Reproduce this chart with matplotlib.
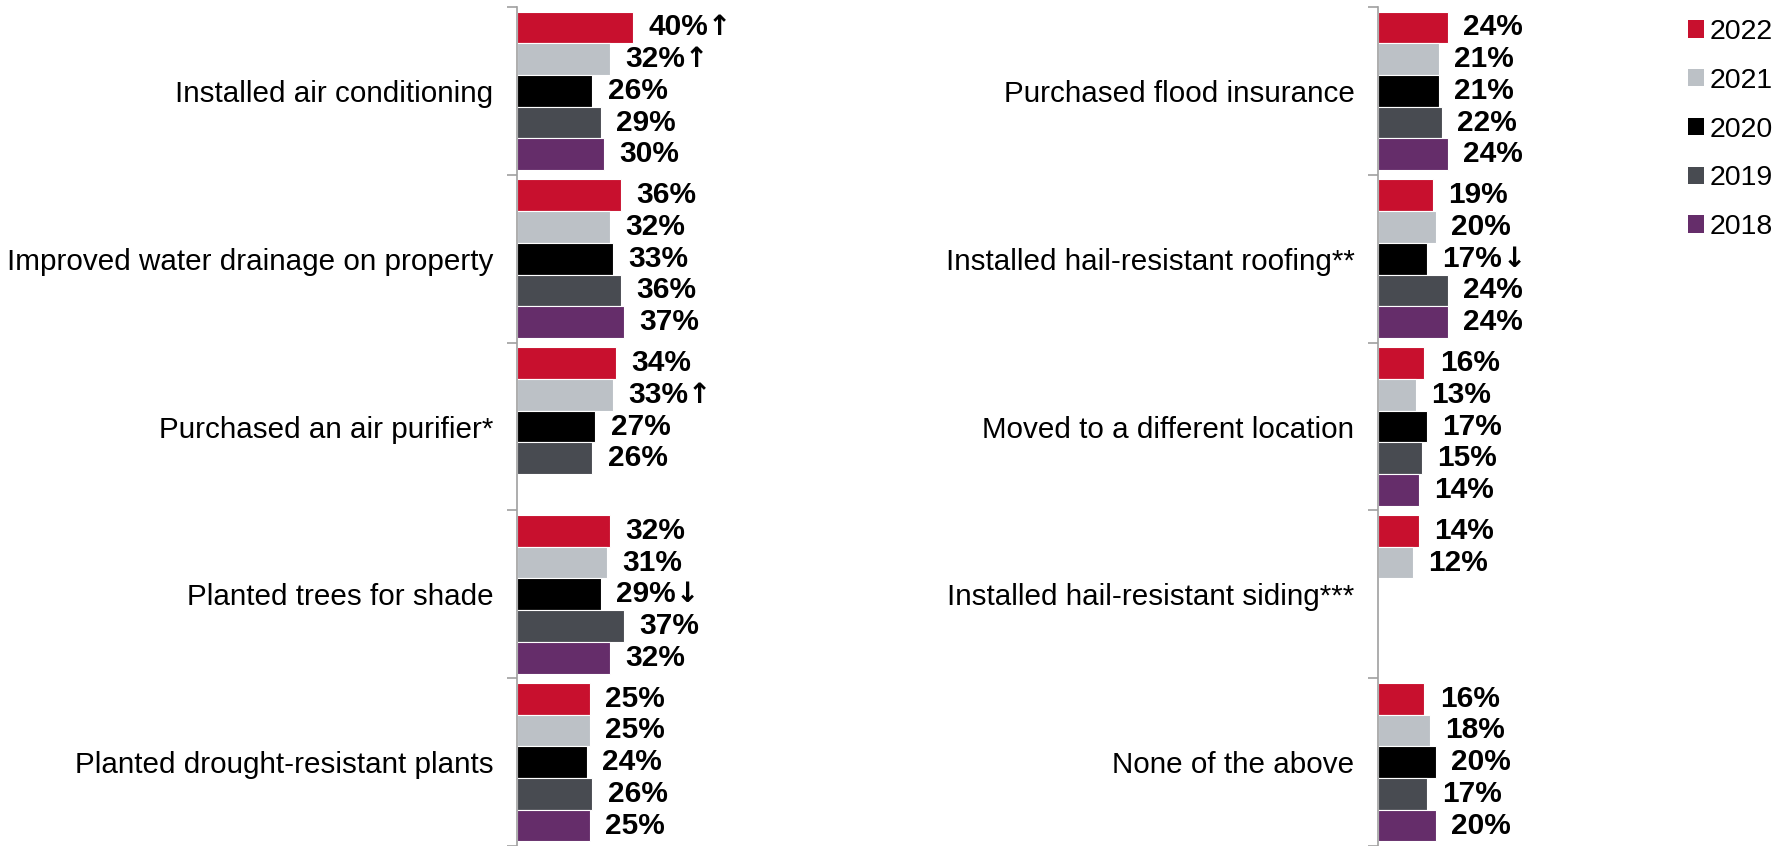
import matplotlib
matplotlib.use("Agg")
import matplotlib.pyplot as plt
from matplotlib.patches import Patch

plt.rcParams['font.family'] = ['Liberation Sans', 'DejaVu Sans']

years = ["2022", "2021", "2020", "2019", "2018"]
colors = ["#C8102E", "#BCC1C6", "#000000", "#484B51", "#652D6A"]

left_cats = ["Installed air conditioning",
             "Improved water drainage on property",
             "Purchased an air purifier*",
             "Planted trees for shade",
             "Planted drought-resistant plants"]
# rows = categories, columns = years (2022..2018); None = not asked
left_vals = [[40, 32, 26, 29, 30],
             [36, 32, 33, 36, 37],
             [34, 33, 27, 26, None],
             [32, 31, 29, 37, 32],
             [25, 25, 24, 26, 25]]
left_marks = [["↑", "↑", "", "", ""],
              ["", "", "", "", ""],
              ["", "↑", "", "", ""],
              ["", "", "↓", "", ""],
              ["", "", "", "", ""]]

right_cats = ["Purchased flood insurance",
              "Installed hail-resistant roofing**",
              "Moved to a different location",
              "Installed hail-resistant siding***",
              "None of the above"]
right_vals = [[24, 21, 21, 22, 24],
              [19, 20, 17, 24, 24],
              [16, 13, 17, 15, 14],
              [14, 12, None, None, None],
              [16, 18, 20, 17, 20]]
right_marks = [["", "", "", "", ""],
               ["", "", "↓", "", ""],
               ["", "", "", "", ""],
               ["", "", "", "", ""],
               ["", "", "", "", ""]]

W, H = 1789, 846
fig = plt.figure(figsize=(W / 100, H / 100), dpi=100)

px_per_pct = 2.9
ax_w = 330
top_px = 7


def draw_panel(x0, cats, vals, marks):
    ax = fig.add_axes([x0 / W, 0, ax_w / W, 1 - top_px / H])
    n = len(cats)
    bh = 0.189
    for i, row in enumerate(vals):
        for j, v in enumerate(row):
            if v is None:
                continue
            y = i + (j - 2) * bh
            ax.barh(y, v, height=bh, color=colors[j], edgecolor="white", linewidth=0.8)
            t = ax.annotate(f"{v}%", (v, y), xytext=(11, 0),
                            textcoords="offset points", va="center", ha="left",
                            fontsize=21.5, fontweight="bold")
            if marks[i][j]:
                # arrow glyph drawn just after the value text
                ax.annotate(marks[i][j], xy=(1, 0.5), xycoords=t, xytext=(0, 0),
                            textcoords="offset points", va="center", ha="left",
                            fontsize=20, fontweight="bold", family="DejaVu Sans")
    ax.set_xlim(0, ax_w / px_per_pct)
    ax.set_ylim(n - 0.5, -0.5)
    ax.set_yticks(range(n))
    ax.set_yticklabels(cats, fontsize=21.3)
    ax.set_yticks([k - 0.5 for k in range(n + 1)], minor=True)
    ax.tick_params(axis="y", which="major", length=0, pad=17)
    ax.tick_params(axis="y", which="minor", length=7, color="#A0A0A0", width=1.2)
    ax.set_xticks([])
    for s in ["top", "right", "bottom"]:
        ax.spines[s].set_visible(False)
    ax.spines["left"].set_color("#A0A0A0")
    ax.spines["left"].set_linewidth(1.2)
    return ax


draw_panel(517, left_cats, left_vals, left_marks)
draw_panel(1378, right_cats, right_vals, right_marks)

handles = [Patch(facecolor=c, edgecolor="none") for c in colors]
fig.legend(handles, years, loc="upper left", bbox_to_anchor=(1688 / W, 1 - 19 / H),
           frameon=False, fontsize=20.5, handlelength=0.55, handleheight=0.55,
           handletextpad=0.2, labelspacing=0.8, borderpad=0, borderaxespad=0)

fig.savefig("out.png", dpi=100)
